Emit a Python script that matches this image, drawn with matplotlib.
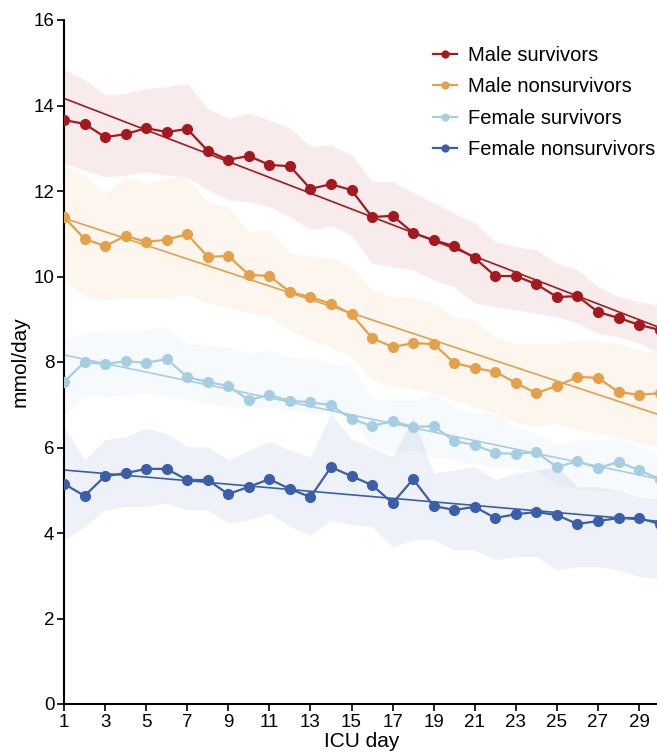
import numpy as np
import matplotlib
matplotlib.use("Agg")
import matplotlib.pyplot as plt

plt.rcParams['font.family'] = ['Liberation Sans', 'DejaVu Sans']

days = np.arange(1, 31)

labels = ["Male survivors", "Male nonsurvivors", "Female survivors", "Female nonsurvivors"]
colors = ["#a5191e", "#e5a04a", "#a6cee3", "#3b5ea8"]

# daily means (mmol/day)
male_surv = [13.66, 13.57, 13.26, 13.33, 13.47, 13.38, 13.45, 12.94, 12.73, 12.82,
             12.61, 12.58, 12.05, 12.16, 12.02, 11.39, 11.42, 11.02, 10.85, 10.71,
             10.43, 10.01, 10.01, 9.82, 9.52, 9.54, 9.17, 9.03, 8.87, 8.75]
male_nonsurv = [11.39, 10.88, 10.71, 10.95, 10.81, 10.86, 10.99, 10.46, 10.48, 10.04,
                10.01, 9.64, 9.52, 9.36, 9.12, 8.56, 8.35, 8.44, 8.42, 7.98,
                7.86, 7.77, 7.51, 7.27, 7.44, 7.65, 7.63, 7.30, 7.23, 7.27]
female_surv = [7.53, 8.00, 7.95, 8.02, 7.98, 8.07, 7.65, 7.53, 7.44, 7.11,
               7.23, 7.09, 7.06, 6.99, 6.67, 6.50, 6.62, 6.48, 6.50, 6.15,
               6.06, 5.87, 5.85, 5.89, 5.54, 5.68, 5.52, 5.66, 5.47, 5.26]
female_nonsurv = [5.15, 4.87, 5.33, 5.40, 5.50, 5.50, 5.24, 5.24, 4.91, 5.08,
                  5.26, 5.03, 4.84, 5.54, 5.33, 5.12, 4.70, 5.26, 4.63, 4.54,
                  4.61, 4.35, 4.44, 4.49, 4.42, 4.21, 4.28, 4.35, 4.35, 4.21]

# 95% confidence limits
male_surv_hi = [14.85, 14.60, 14.25, 14.28, 14.40, 14.44, 14.52, 13.93, 13.70, 13.82,
                13.66, 13.47, 13.04, 13.08, 12.85, 12.22, 12.22, 11.95, 11.72, 11.48,
                11.25, 10.81, 10.70, 10.62, 10.31, 10.15, 9.76, 9.53, 9.41, 9.33]
male_surv_lo = [12.65, 12.49, 12.33, 12.37, 12.45, 12.37, 12.33, 12.02, 11.79, 11.75,
                11.63, 11.40, 11.09, 11.20, 10.96, 10.31, 10.23, 10.15, 9.92, 9.76,
                9.38, 9.29, 9.22, 9.14, 9.06, 8.91, 8.67, 8.59, 8.44, 8.20]
male_nonsurv_hi = [12.60, 12.37, 11.95, 12.33, 12.18, 12.30, 12.33, 11.72, 11.63, 11.05,
                   11.09, 10.55, 10.46, 10.43, 10.23, 9.68, 9.53, 9.53, 9.38, 9.06,
                   8.98, 8.59, 8.44, 8.44, 8.44, 8.51, 8.47, 8.44, 8.28, 8.20]
male_nonsurv_lo = [9.92, 9.53, 9.45, 9.49, 9.49, 9.49, 9.57, 9.37, 9.29, 9.14,
                   9.06, 8.75, 8.51, 8.36, 8.12, 7.58, 7.42, 7.39, 7.27, 7.11,
                   6.95, 6.80, 6.57, 6.49, 6.57, 6.41, 6.33, 6.25, 6.10, 6.02]
female_surv_hi = [8.56, 8.67, 8.75, 8.75, 8.75, 8.83, 8.44, 8.40, 8.36, 8.20,
                  8.28, 8.12, 8.12, 7.97, 7.89, 7.15, 7.11, 7.11, 7.27, 6.95,
                  6.80, 6.80, 6.49, 6.33, 6.10, 6.18, 6.18, 6.25, 6.02, 5.87]
female_surv_lo = [6.76, 7.19, 7.19, 7.23, 7.27, 7.19, 7.11, 7.03, 6.95, 6.92,
                  6.95, 6.88, 6.80, 6.80, 6.69, 6.02, 5.90, 5.95, 5.78, 5.70,
                  5.60, 5.55, 5.50, 5.45, 5.10, 5.05, 5.00, 5.00, 4.90, 4.70]
female_nonsurv_hi = [6.49, 5.71, 6.18, 6.25, 6.45, 6.33, 6.02, 6.02, 5.71, 5.94,
                     6.14, 5.94, 5.78, 6.80, 6.20, 6.00, 5.78, 6.72, 5.40, 5.47,
                     5.55, 5.24, 5.40, 5.47, 5.55, 5.08, 5.08, 5.00, 4.85, 4.77]
female_nonsurv_lo = [3.84, 4.15, 4.54, 4.62, 4.62, 4.70, 4.54, 4.54, 4.23, 4.30,
                     4.46, 4.15, 3.95, 4.30, 4.19, 4.15, 3.68, 3.84, 3.84, 3.60,
                     3.60, 3.37, 3.45, 3.45, 3.13, 3.21, 3.21, 3.13, 2.98, 2.94]

means = [male_surv, male_nonsurv, female_surv, female_nonsurv]
highs = [male_surv_hi, male_nonsurv_hi, female_surv_hi, female_nonsurv_hi]
lows = [male_surv_lo, male_nonsurv_lo, female_surv_lo, female_nonsurv_lo]

fig = plt.figure(figsize=(6.57, 7.53), dpi=100)
ax = fig.add_axes([64 / 657, 49 / 753, 595.6 / 657, 684 / 753])

for hi, lo, c in zip(highs, lows, colors):
    ax.fill_between(days, lo, hi, color=c, alpha=0.085, lw=0, zorder=1)
for m, c, lab in zip(means, colors, labels):
    ax.plot(days, m, color=c, lw=1.6, marker='o', ms=7, zorder=3, label=lab)
    # linear trend
    k, b = np.polyfit(days, m, 1)
    ax.plot(days, k * days + b, color=c, lw=1.2, zorder=2)

ax.set_xlim(1, 30)
ax.set_ylim(0, 16)
ax.set_xticks(np.arange(1, 30, 2))
ax.set_yticks(np.arange(0, 17, 2))
ax.tick_params(labelsize=13.5, length=5, width=1.2, direction='out', pad=2)
ax.spines['top'].set_visible(False)
ax.spines['right'].set_visible(False)
for s in ['left', 'bottom']:
    ax.spines[s].set_linewidth(1.5)
ax.set_xlabel("ICU day", fontsize=15, labelpad=1)
ax.set_ylabel("mmol/day", fontsize=15, labelpad=3)

ax.legend(loc='upper left', bbox_to_anchor=(433 / 657, 1 - 46 / 753),
          bbox_transform=fig.transFigure, frameon=False, fontsize=14.5,
          handlelength=1.2, handletextpad=0.55, labelspacing=0.62,
          borderaxespad=0, borderpad=0, markerscale=0.7)

fig.savefig("out.png", dpi=100)
